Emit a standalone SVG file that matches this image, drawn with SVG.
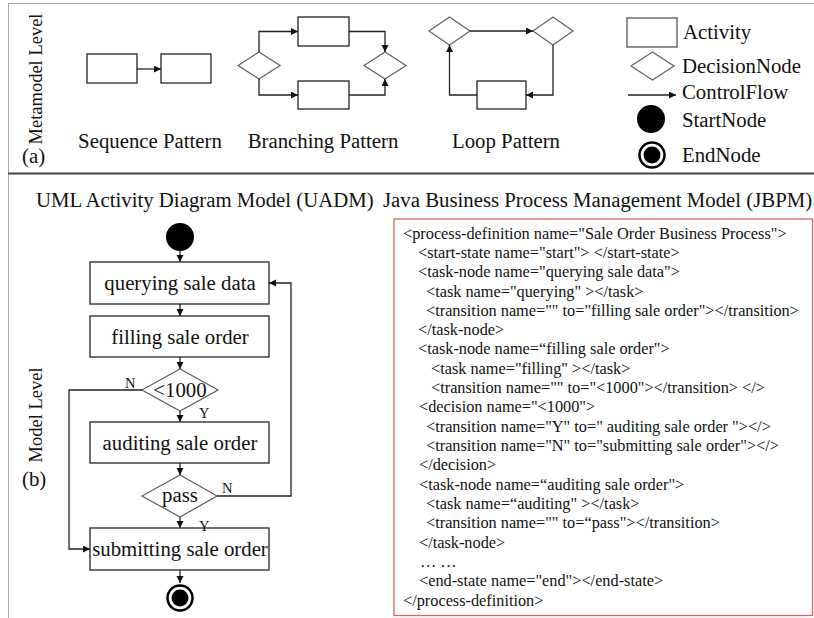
<svg xmlns="http://www.w3.org/2000/svg" width="814" height="618" viewBox="0 0 814 618">
<defs>
<style>
.t{font-family:"Liberation Serif","Times New Roman",serif;fill:#111}
.big{font-size:20.8px}
.lab{font-size:14.5px}
.xml{font-size:16.3px}
.box{fill:#fff;stroke:#222;stroke-width:1.3}
.lbox{fill:#fff;stroke:#555;stroke-width:1.3}
.dia{fill:#fff;stroke:#666;stroke-width:1.3}
.ln{fill:none;stroke:#222;stroke-width:1.3}
</style>
<marker id="ah" markerUnits="userSpaceOnUse" markerWidth="8" markerHeight="8" refX="7" refY="3.5" orient="auto"><path d="M0,0 L7,3.5 L0,7 z" fill="#111"/></marker>
</defs>
<rect x="0" y="0" width="814" height="618" fill="#fff"/>
<!-- frame -->
<path d="M8.5,618 L8.5,3.5 L814,3.5" fill="none" stroke="#aaa" stroke-width="1"/>
<line x1="8" y1="173.5" x2="814" y2="173.5" stroke="#444" stroke-width="2"/>

<g id="side-labels">
<text class="t" font-size="18.5" text-anchor="middle" transform="translate(42,79) rotate(-90)">Metamodel Level</text>
<text class="t big" x="22" y="163">(a)</text>
<text class="t" font-size="18.5" text-anchor="middle" transform="translate(42,415) rotate(-90)">Model Level</text>
<text class="t big" x="22" y="486">(b)</text>
</g>

<g id="sequence-pattern">
<rect class="box" x="87" y="54" width="50" height="29"/>
<rect class="box" x="161" y="54" width="50" height="29"/>
<text class="t big" x="150" y="148" text-anchor="middle">Sequence Pattern</text>
</g>
<g id="branching-pattern">
<polygon class="dia" points="238,65.5 259,52 280,65.5 259,79"/>
<rect class="box" x="298" y="17" width="51" height="29"/>
<rect class="box" x="298" y="81" width="51" height="28"/>
<polygon class="dia" points="364,65.5 385,52 406,65.5 385,79"/>
<text class="t big" x="323" y="148" text-anchor="middle">Branching Pattern</text>
</g>
<g id="loop-pattern">
<polygon class="dia" points="429,31 449.5,17 470,31 449.5,45"/>
<polygon class="dia" points="533,31 553,17 573,31 553,45"/>
<rect class="box" x="477" y="81" width="49" height="28"/>
<text class="t big" x="506" y="148" text-anchor="middle">Loop Pattern</text>
</g>
<g id="legend">
<rect class="lbox" x="627" y="18" width="50" height="29"/>
<text class="t big" x="683" y="39">Activity</text>
<polygon class="dia" points="631,66 652.5,52 674,66 652.5,80"/>
<text class="t big" x="682" y="73">DecisionNode</text>
<text class="t big" x="682" y="99">ControlFlow</text>
<circle cx="651" cy="119" r="14" fill="#000"/>
<text class="t big" x="682" y="127">StartNode</text>
<circle cx="652" cy="155" r="12.5" fill="#fff" stroke="#000" stroke-width="2.5"/>
<circle cx="652" cy="155" r="8.5" fill="#000"/>
<text class="t big" x="682" y="162">EndNode</text>
</g>

<text class="t big" x="36" y="207">UML Activity Diagram Model (UADM)</text>
<text class="t big" x="383" y="207">Java Business Process Management Model (JBPM)</text>

<g id="start"><circle cx="180" cy="237" r="14" fill="#000"/></g>
<g id="querying"><rect class="box" x="90" y="262" width="179" height="42"/><text class="t big" x="180" y="290" text-anchor="middle">querying sale data</text></g>
<g id="filling"><rect class="box" x="90" y="316" width="179" height="41"/><text class="t big" x="180" y="344" text-anchor="middle">filling sale order</text></g>
<g id="d1000"><polygon class="dia" points="142,390 180,369 218,390 180,411"/><text class="t big" x="180" y="397" text-anchor="middle">&lt;1000</text></g>
<g id="auditing"><rect class="box" x="90" y="422" width="179" height="41"/><text class="t big" x="180" y="450" text-anchor="middle">auditing sale order</text></g>
<g id="pass"><polygon class="dia" points="142,496 180,475 217,496 180,517"/><text class="t big" x="180" y="502" text-anchor="middle">pass</text></g>
<g id="submitting"><rect class="box" x="90" y="528" width="179" height="42"/><text class="t big" x="180" y="556" text-anchor="middle">submitting sale order</text></g>
<g id="end"><circle cx="180" cy="598" r="12.5" fill="#fff" stroke="#000" stroke-width="2.5"/><circle cx="180" cy="598" r="8.5" fill="#000"/></g>

<g id="edge-labels">
<text class="t lab" x="125" y="388">N</text>
<text class="t lab" x="199" y="418">Y</text>
<text class="t lab" x="222" y="493">N</text>
<text class="t lab" x="199" y="531">Y</text>
</g>

<g id="connectors">
<path class="ln" d="M137,69 L161,69" marker-end="url(#ah)"/>
<path class="ln" d="M259,52 L259,31.5 L298,31.5" marker-end="url(#ah)"/>
<path class="ln" d="M259,79 L259,95 L298,95" marker-end="url(#ah)"/>
<path class="ln" d="M349,31.5 L385,31.5 L385,52" marker-end="url(#ah)"/>
<path class="ln" d="M349,95 L385,95 L385,79" marker-end="url(#ah)"/>
<path class="ln" d="M470,31 L533,31" marker-end="url(#ah)"/>
<path class="ln" d="M553,45 L553,95 L526,95" marker-end="url(#ah)"/>
<path class="ln" d="M477,95 L449.5,95 L449.5,45" marker-end="url(#ah)"/>
<path class="ln" d="M628,95 L676,95" marker-end="url(#ah)"/>
<path class="ln" d="M180,251 L180,262" marker-end="url(#ah)"/>
<path class="ln" d="M180,304 L180,316" marker-end="url(#ah)"/>
<path class="ln" d="M180,357 L180,369" marker-end="url(#ah)"/>
<path class="ln" d="M180,411 L180,422" marker-end="url(#ah)"/>
<path class="ln" d="M180,463 L180,475" marker-end="url(#ah)"/>
<path class="ln" d="M180,517 L180,528" marker-end="url(#ah)"/>
<path class="ln" d="M180,570 L180,583" marker-end="url(#ah)"/>
<path class="ln" d="M142,390 L69,390 L69,549 L90,549" marker-end="url(#ah)"/>
<path class="ln" d="M217,496 L291,496 L291,283 L269,283" marker-end="url(#ah)"/>
</g>

<g id="jbpm">
<rect x="394" y="219" width="418.5" height="396.5" fill="#fff" stroke="#e06464" stroke-width="1.3"/>
<text class="t xml" x="403" y="239">&lt;process-definition name="Sale Order Business Process"&gt;</text>
<text class="t xml" x="418" y="258">&lt;start-state name="start"&gt; &lt;/start-state&gt;</text>
<text class="t xml" x="418" y="277">&lt;task-node name="querying sale data"&gt;</text>
<text class="t xml" x="426" y="297">&lt;task name="querying" &gt;&lt;/task&gt;</text>
<text class="t xml" x="426" y="316">&lt;transition name="" to="filling sale order"&gt;&lt;/transition&gt;</text>
<text class="t xml" x="418" y="335">&lt;/task-node&gt;</text>
<text class="t xml" x="418" y="354">&lt;task-node name=“filling sale order"&gt;</text>
<text class="t xml" x="431" y="374">&lt;task name="filling" &gt;&lt;/task&gt;</text>
<text class="t xml" x="431" y="393">&lt;transition name="" to="&lt;1000"&gt;&lt;/transition&gt; &lt;/&gt;</text>
<text class="t xml" x="419" y="412">&lt;decision name="&lt;1000"&gt;</text>
<text class="t xml" x="426" y="432">&lt;transition name="Y" to=" auditing sale order "&gt;&lt;/&gt;</text>
<text class="t xml" x="426" y="451">&lt;transition name="N" to="submitting sale order"&gt;&lt;/&gt;</text>
<text class="t xml" x="419" y="470">&lt;/decision&gt;</text>
<text class="t xml" x="419" y="490">&lt;task-node name=“auditing sale order"&gt;</text>
<text class="t xml" x="426" y="509">&lt;task name=“auditing" &gt;&lt;/task&gt;</text>
<text class="t xml" x="426" y="528">&lt;transition name="" to=“pass"&gt;&lt;/transition&gt;</text>
<text class="t xml" x="419" y="548">&lt;/task-node&gt;</text>
<text class="t xml" x="420" y="567">… …</text>
<text class="t xml" x="419" y="586">&lt;end-state name="end"&gt;&lt;/end-state&gt;</text>
<text class="t xml" x="403" y="606">&lt;/process-definition&gt;</text>
</g>
</svg>
